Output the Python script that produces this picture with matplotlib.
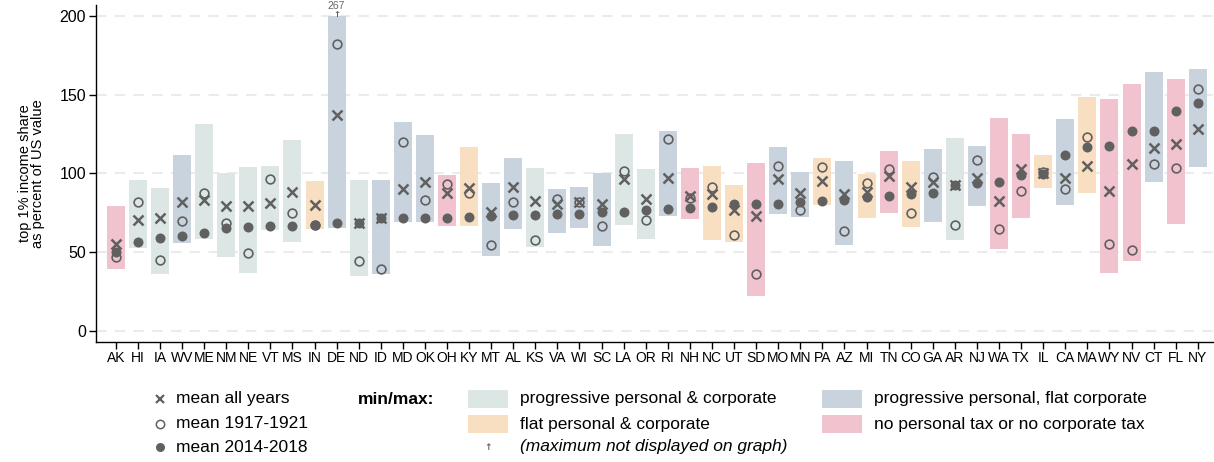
import numpy as np
import matplotlib
matplotlib.use("Agg")
import matplotlib.pyplot as plt
from matplotlib.patches import Rectangle
from matplotlib.lines import Line2D

plt.rcParams['font.family'] = ['Liberation Sans', 'DejaVu Sans']

# --- data ---
states = ['AK', 'HI', 'IA', 'WV', 'ME', 'NM', 'NE', 'VT', 'MS', 'IN',
          'DE', 'ND', 'ID', 'MD', 'OK', 'OH', 'KY', 'MT', 'AL', 'KS',
          'VA', 'WI', 'SC', 'LA', 'OR', 'RI', 'NH', 'NC', 'UT', 'SD',
          'MO', 'MN', 'PA', 'AZ', 'MI', 'TN', 'CO', 'GA', 'AR', 'NJ',
          'WA', 'TX', 'IL', 'CA', 'MA', 'WY', 'NV', 'CT', 'FL', 'NY']

# tax regime: g = progressive personal & corporate, o = flat personal & corporate,
# b = progressive personal, flat corporate, p = no personal or no corporate tax
regime = ['p', 'g', 'g', 'b', 'g', 'g', 'g', 'g', 'g', 'o',
          'b', 'g', 'b', 'b', 'b', 'p', 'o', 'b', 'b', 'g',
          'b', 'b', 'b', 'g', 'g', 'b', 'p', 'o', 'o', 'p',
          'b', 'b', 'o', 'b', 'o', 'p', 'o', 'b', 'g', 'b',
          'p', 'p', 'o', 'b', 'o', 'p', 'p', 'b', 'p', 'b']

mean_all = [55.0, 70.4, 71.5, 82.0, 83.1, 79.5, 79.5, 81.0, 88.4, 80.0,
            137.0, 68.7, 71.5, 89.9, 94.7, 87.4, 91.0, 75.5, 91.4, 82.3,
            80.8, 81.7, 80.6, 96.4, 83.5, 97.3, 85.7, 86.7, 76.8, 73.0,
            96.2, 87.8, 95.2, 86.9, 88.4, 98.5, 91.2, 94.5, 92.6, 97.3,
            82.3, 103.0, 100.0, 96.9, 104.9, 88.8, 106.2, 115.9, 118.5, 128.4]

mean_1917 = [47.0, 82.0, 45.0, 69.8, 87.8, 68.3, 49.7, 96.6, 74.7, 67.5,
             181.9, 44.6, 39.5, 119.7, 82.9, 93.5, 87.8, 54.4, 81.9, 57.9,
             83.9, 81.7, 66.6, 101.5, 70.4, 121.6, 84.2, 91.2, 61.1, 36.4,
             104.9, 76.8, 103.9, 63.5, 94.1, 103.0, 74.7, 97.9, 67.0, 108.3,
             64.5, 89.0, 101.0, 90.3, 123.3, 55.4, 51.2, 105.8, 103.2, 153.4]

mean_2014 = [50.0, 56.3, 59.2, 60.3, 62.4, 65.2, 66.0, 66.4, 66.4, 67.5,
             68.7, 68.7, 71.5, 71.9, 71.9, 71.9, 72.5, 73.0, 73.4, 73.4,
             74.4, 74.4, 75.5, 75.7, 76.6, 77.4, 77.9, 78.9, 80.4, 80.6,
             80.8, 82.0, 82.3, 83.1, 85.2, 85.9, 86.9, 87.4, 92.6, 94.1,
             94.5, 99.0, 99.6, 111.9, 116.9, 117.6, 127.1, 127.1, 139.8, 144.9]

min_val = [39.5, 52.9, 36.4, 56.0, 58.6, 47.2, 37.0, 64.3, 56.7, 64.9,
           65.6, 35.1, 36.4, 69.4, 69.4, 66.8, 66.8, 47.8, 64.9, 53.5,
           62.4, 65.4, 54.1, 67.5, 58.6, 73.2, 71.3, 57.9, 56.7, 22.4,
           74.4, 72.5, 80.2, 54.8, 71.9, 75.1, 66.2, 69.4, 57.9, 79.5,
           52.2, 71.9, 91.0, 80.2, 87.8, 37.0, 44.6, 94.7, 68.1, 104.3]

max_val = [79.3, 95.8, 90.7, 111.7, 131.3, 100.0, 104.0, 104.7, 121.2, 95.2,
           267.0, 95.8, 95.8, 132.6, 124.4, 99.0, 116.8, 93.9, 109.8, 103.4,
           90.1, 91.4, 100.3, 125.0, 102.8, 126.9, 103.4, 104.7, 92.6, 106.6,
           116.8, 100.7, 109.8, 107.9, 99.6, 114.2, 107.9, 115.5, 122.5, 117.4,
           135.2, 125.0, 111.7, 134.5, 148.5, 147.2, 156.7, 164.3, 159.9, 166.2]

regime_colors = {'g': '#dce6e4', 'o': '#f8dfc2', 'b': '#c9d3de', 'p': '#f1c3ce'}
regime_labels = {'g': 'progressive personal & corporate',
                 'o': 'flat personal & corporate',
                 'b': 'progressive personal, flat corporate',
                 'p': 'no personal tax or no corporate tax'}
mk = '#606060'
y_cap = 200

W, H = 1214, 462
fig = plt.figure(figsize=(W / 100, H / 100), dpi=100)
ax = fig.add_axes([95.7 / W, 1 - 341.7 / H, (1213 - 95.7) / W, (341.7 - 5) / H])

x = np.arange(len(states))
lo = np.array(min_val)
hi = np.minimum(np.array(max_val), y_cap)
cols = [regime_colors[r] for r in regime]

for yg in range(0, 201, 50):
    ax.axhline(yg, color='#ebebeb', lw=1.5, ls=(0, (5, 4)), zorder=0)

ax.bar(x, hi - lo, bottom=lo, width=0.815, color=cols, zorder=1)

ax.plot(x, mean_1917, ls='none', marker='o', ms=6.3, mfc='none', mec=mk, mew=1.2, zorder=3)
ax.plot(x, mean_2014, ls='none', marker='o', ms=7.2, mfc=mk, mec=mk, mew=0, zorder=4)
ax.plot(x, mean_all, ls='none', marker='x', ms=6.5, mec=mk, mew=1.8, zorder=5)

# values above the axis limit
for i, v in enumerate(max_val):
    if v > y_cap:
        ax.text(x[i], 200.8, '\u2191', ha='center', va='center', fontsize=6,
                color=mk, family='DejaVu Sans', fontweight='bold', clip_on=False)
        ax.text(x[i], 206.3, f'{v:.0f}', ha='center', va='center', fontsize=7.5,
                color='#666666', clip_on=False)

ax.set_xlim(-0.91, 49.69)
ax.set_ylim(-6.8, 206.8)
ax.set_xticks(x)
ax.set_xticklabels(states, fontsize=10)
ax.set_yticks([0, 50, 100, 150, 200])
ax.tick_params(axis='y', labelsize=11.5, length=5, width=1, pad=2)
ax.tick_params(axis='x', length=5, width=1, pad=2)
for s in ['top', 'right']:
    ax.spines[s].set_visible(False)
for s in ['left', 'bottom']:
    ax.spines[s].set_linewidth(1)
ax.set_ylabel('top 1% income share\nas percent of US value', fontsize=10.5, labelpad=10,
              linespacing=0.95)


# --- legend drawn in figure pixels ---
def fx(px):
    return px / W


def fy(py):
    return 1 - py / H


rows = [399, 424, 447]
leg_fs = 12.5
fig.add_artist(Line2D([fx(160)], [fy(rows[0])], marker='x', ms=6.3, mec=mk, mew=1.6, ls='none'))
fig.add_artist(Line2D([fx(160)], [fy(rows[1])], marker='o', ms=6, mfc='none', mec=mk, mew=1.1, ls='none'))
fig.add_artist(Line2D([fx(160)], [fy(rows[2])], marker='o', ms=6.5, mfc=mk, mec=mk, mew=0, ls='none'))
for r, t in zip(rows, ['mean all years', 'mean 1917-1921', 'mean 2014-2018']):
    fig.text(fx(176), fy(r), t, fontsize=leg_fs, va='center', ha='left')

fig.text(fx(358), fy(rows[0]), 'min/max:', fontsize=leg_fs, fontweight='bold', va='center', ha='left')

patch_pos = {'g': (468, rows[0]), 'o': (468, rows[1]), 'b': (822, rows[0]), 'p': (822, rows[1])}
for k, (px, py) in patch_pos.items():
    fig.add_artist(Rectangle((fx(px), fy(py + 9)), 40 / W, 18 / H,
                             transform=fig.transFigure, color=regime_colors[k], lw=0))
    fig.text(fx(px + 52), fy(py), regime_labels[k], fontsize=leg_fs, va='center', ha='left')

fig.text(fx(488), fy(rows[2]), '\u2191', fontsize=6.5, color=mk, family='DejaVu Sans',
         fontweight='bold', va='center', ha='center')
fig.text(fx(520), fy(rows[2]), '(maximum not displayed on graph)', fontsize=leg_fs,
         style='italic', va='center', ha='left')

fig.savefig('out.png', dpi=100)
